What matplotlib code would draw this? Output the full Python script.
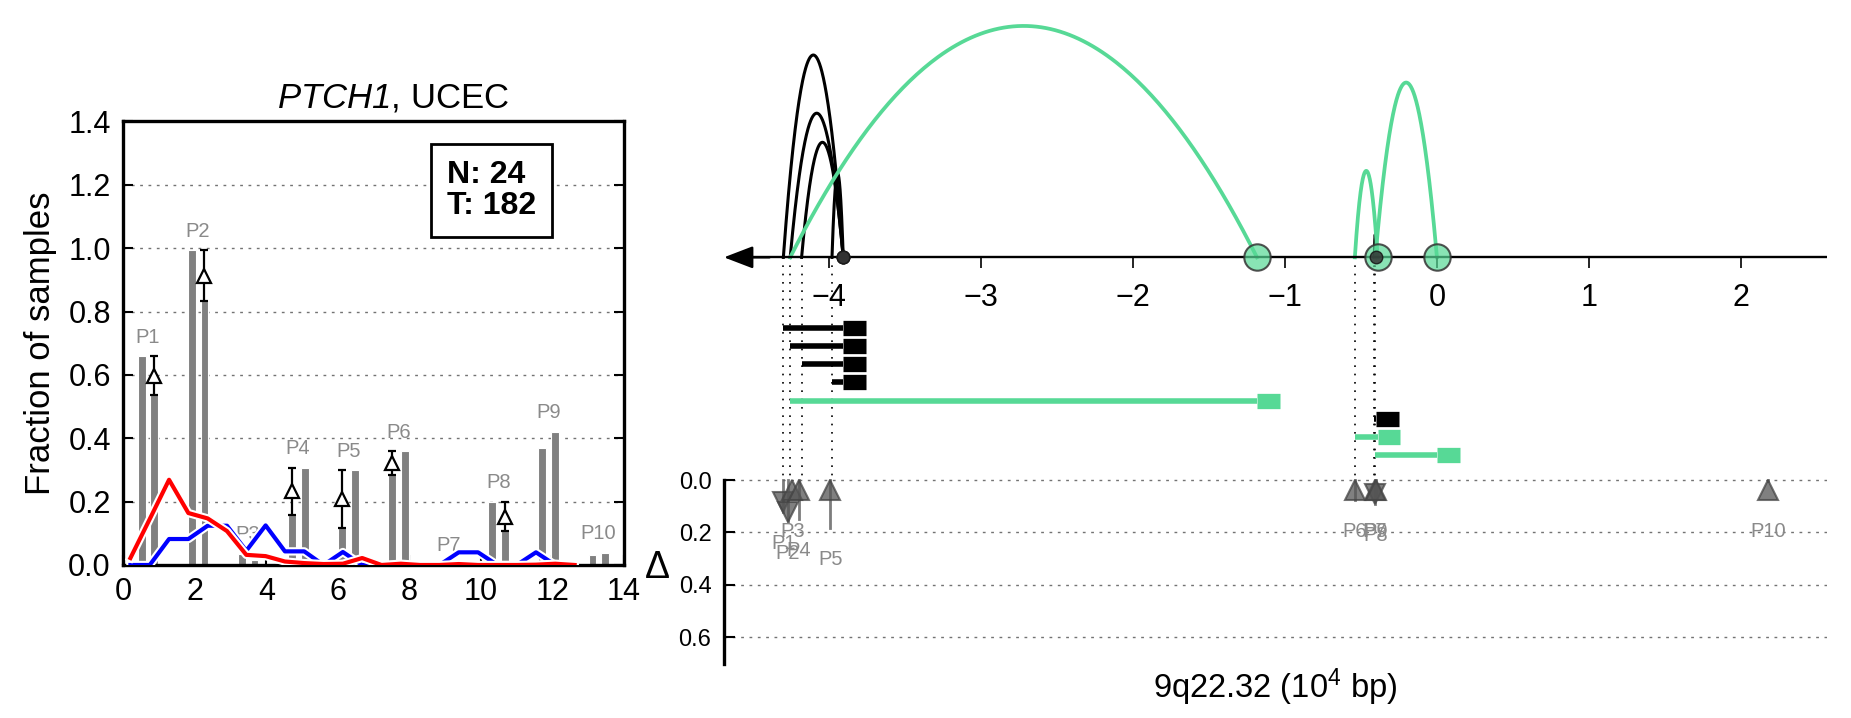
#!/usr/bin/env python3
"""
Peak fractions (left) and rearrangement arcs around PTCH1 (right).
"""

import matplotlib
matplotlib.use("Agg")
import matplotlib.pyplot as plt
import matplotlib.patheffects as pe
import matplotlib.transforms as mtransforms
import numpy as np

plt.rcParams["font.family"] = ["Liberation Sans", "DejaVu Sans"]
plt.rcParams["mathtext.fontset"] = "custom"
plt.rcParams["mathtext.rm"] = "Liberation Sans"
plt.rcParams["mathtext.it"] = "Liberation Sans:italic"
# digits are never slanted in the 'it' math font, so the gene name uses this slot
plt.rcParams["mathtext.bf"] = "Liberation Sans:italic"

# ---------------- left panel data ----------------
peak_names = ["P1", "P2", "P3", "P4", "P5", "P6", "P7", "P8", "P9", "P10"]
frac_normal = [0.659, 0.993, 0.035, 0.158, 0.116, 0.283, 0.0, 0.199, 0.369, 0.033]
frac_tumor = [0.537, 0.833, 0.015, 0.307, 0.299, 0.359, 0.0, 0.107, 0.421, 0.038]
delta_shown = [True, True, False, True, True, True, False, True, False, False]

curve_x = [0.20, 0.74, 1.28, 1.82, 2.36, 2.90, 3.44, 3.98, 4.52, 5.06, 5.60, 6.14,
           6.68, 7.22, 7.76, 8.30, 8.84, 9.38, 9.92, 10.46, 11.00, 11.54, 12.08, 12.62]
red_y = [0.022, 0.145, 0.269, 0.164, 0.147, 0.107, 0.032, 0.028, 0.011, 0.006, 0.003, 0.004,
         0.022, 0.0, 0.004, 0.0, 0.0, 0.003, 0.0, 0.0, 0.0, 0.001, 0.004, 0.0]
blue_y = [0.0, 0.0, 0.082, 0.082, 0.124, 0.124, 0.045, 0.125, 0.043, 0.043, 0.0, 0.041,
          0.0, 0.0, 0.0, 0.0, 0.0, 0.04, 0.04, 0.0, 0.0, 0.04, 0.0, 0.0]

n_normal = 24
n_tumor = 182

# ---------------- right panel data (10^4 bp) ----------------
arc_start = [-4.30, -4.255, -4.18, -3.98, -4.255, -0.412, -0.54, -0.405]
arc_end = [-3.906, -3.906, -3.906, -3.906, -1.184, -0.40, -0.39, 0.0]
arc_height = [0.772, 0.55, 0.439, 0.32, 0.883, 0.087, 0.33, 0.667]
arc_group = ["black", "black", "black", "black", "green", "black", "green", "green"]

peak_coord = [-4.30, -4.27, -4.24, -4.20, -3.99, -0.54, -0.41, -0.405, -0.40, 2.18]
peak_delta = [-0.122, -0.16, 0.0, 0.149, 0.183, 0.076, 0.0, -0.092, 0.052, 0.005]

genome_ticks = [-4, -3, -2, -1, 0, 1, 2]

GREEN = "#57d996"
AXIS_Y = -0.85      # where the genomic axis sits, in delta units
TRACK_TOP = -0.581
TRACK_STEP = 0.0694


def left_panel(ax):
    idx = np.arange(len(peak_names))
    xa = 0.52 + 1.4 * idx
    xb = xa + 0.35
    ax.bar(xa, frac_normal, width=0.22, color="#808080", edgecolor="white", lw=0.8, zorder=2)
    ax.bar(xb, frac_tumor, width=0.22, color="#808080", edgecolor="white", lw=0.8, zorder=2)

    for i, name in enumerate(peak_names):
        top = max(frac_normal[i], frac_tumor[i])
        ax.text(xa[i] + 0.17, top + 0.06, name, ha="center", va="center",
                color="#8a8a8a", fontsize=14.5, zorder=2.5)
        if delta_shown[i]:
            lo, hi = sorted([frac_normal[i], frac_tumor[i]])
            xm = xa[i] if frac_normal[i] < frac_tumor[i] else xb[i]
            ax.errorbar(xm, (lo + hi) / 2, yerr=(hi - lo) / 2, fmt="^", ms=10,
                        mfc="white", mec="black", mew=1.6, ecolor="black",
                        elinewidth=1.6, capsize=3, capthick=1.6, zorder=6)

    halo = [pe.withStroke(linewidth=6, foreground="white")]
    ax.plot(curve_x, blue_y, color="#0000ff", lw=3, path_effects=halo, zorder=4)
    ax.plot(curve_x, red_y, color="#ff0000", lw=3, path_effects=halo, zorder=4.5)

    ax.set_xlim(0, 14)
    ax.set_ylim(0, 1.4)
    ax.set_xticks(range(0, 15, 2))
    ax.set_yticks(np.arange(0, 1.41, 0.2))
    ax.set_yticklabels([f"{v:.1f}" for v in np.arange(0, 1.41, 0.2)])
    ax.tick_params(direction="in", length=7, width=1.5, labelsize=22, right=True, pad=9)
    ax.yaxis.grid(True, ls=(0, (2, 4)), color="0.45", lw=1)
    ax.set_axisbelow(True)
    for sp in ax.spines.values():
        sp.set_linewidth(2.4)

    ax.set_ylabel("Fraction of samples", fontsize=25, labelpad=8)
    ax.set_title(r"$\mathbf{PTCH1}$, UCEC", fontsize=25, x=0.54, pad=10)
    ax.text(0.735, 0.845, f"N: {n_normal}\nT: {n_tumor}", transform=ax.transAxes,
            ha="center", va="center", multialignment="left", fontsize=23,
            fontweight="bold", linespacing=1.05,
            bbox=dict(boxstyle="square,pad=0.5", fc="white", ec="black", lw=2))


def right_panel(ax, fig):
    xmin, xmax = -4.691, 2.566
    ax.set_xlim(xmin, xmax)
    ax.set_ylim(0.70, -1.832)

    # genomic axis with arrow and ticks
    ax.plot([xmin + 0.1, xmax], [AXIS_Y, AXIS_Y], color="black", lw=1.7, zorder=3)
    ax.annotate("", xy=(xmin, AXIS_Y), xytext=(xmin + 0.3, AXIS_Y),
                arrowprops=dict(arrowstyle="-|>,head_length=0.6,head_width=0.23",
                                color="black", lw=1.7, mutation_scale=30,
                                shrinkA=0, shrinkB=0), annotation_clip=False)
    ax.vlines(genome_ticks, AXIS_Y, AXIS_Y + 0.041, color="black", lw=1.2, zorder=3)
    for t in genome_ticks:
        lab = f"{t}".replace("-", "\u2212")
        ax.text(t, AXIS_Y + 0.156, lab, ha="center", va="center", fontsize=22)

    # arcs
    t = np.linspace(0, 1, 200)
    for s, e, h, g in zip(arc_start, arc_end, arc_height, arc_group):
        col = "black" if g == "black" else GREEN
        lw = 2.2 if g == "black" else 2.7
        ax.plot(s + (e - s) * t, AXIS_Y - h * 4 * t * (1 - t), color=col, lw=lw, zorder=2)

    # nodes on the axis
    for e, g in zip(arc_end, arc_group):
        if g == "green":
            ax.plot(e, AXIS_Y, "o", ms=19, mfc=(0.34, 0.85, 0.59, 0.7),
                    mec=(0.2, 0.2, 0.2, 0.85), mew=1.5, zorder=4)
    for e, g in zip(arc_end, arc_group):
        if g == "black":
            ax.plot(e, AXIS_Y, "o", ms=9, mfc=(0.2, 0.2, 0.2, 0.85),
                    mec=(0.1, 0.1, 0.1, 0.9), mew=1, zorder=5)

    # dotted guides from breakpoints to delta axis
    for s in sorted(set(arc_start)):
        ax.plot([s, s], [AXIS_Y, 0], color="black", lw=1.2, ls=(0, (1, 4)), zorder=1)

    # tracks
    for k, (s, e, g) in enumerate(zip(arc_start, arc_end, arc_group)):
        col = "black" if g == "black" else GREEN
        y = TRACK_TOP + TRACK_STEP * k
        ax.plot([s, e], [y, y], color=col, lw=4, solid_capstyle="butt", zorder=3)
        ax.plot([e, e + 0.15], [y, y], color=col, lw=11, solid_capstyle="butt", zorder=3)

    # delta markers
    down = mtransforms.offset_copy(ax.transData, fig=fig, x=0, y=7, units="points")
    up = mtransforms.offset_copy(ax.transData, fig=fig, x=0, y=-7, units="points")
    for x, d, name in zip(peak_coord, peak_delta, peak_names):
        ax.plot([x, x], [0, abs(d)], color="#666666", lw=2, alpha=0.85, zorder=3)
        if d < 0:
            ax.plot(x, abs(d), "v", ms=14, mfc="#555555", mec="#444444", mew=1.5,
                    alpha=0.75, transform=down, zorder=4)
        else:
            ax.plot(x, 0, "^", ms=14, mfc="#555555", mec="#444444", mew=1.5,
                    alpha=0.75, transform=up, zorder=4)
        ax.text(x, max(abs(d), 0.076) + 0.12, name, ha="center", va="center",
                color="#8a8a8a", fontsize=14.5, zorder=5)

    # delta axis
    ax.set_yticks([0.0, 0.2, 0.4, 0.6])
    ax.set_yticklabels(["0.0", "0.2", "0.4", "0.6"])
    ax.tick_params(axis="y", direction="in", length=8, width=1.5, labelsize=17, pad=9)
    ax.yaxis.grid(True, ls=(0, (2, 4)), color="0.45", lw=1)
    ax.set_xticks([])
    for side in ["top", "right", "bottom"]:
        ax.spines[side].set_visible(False)
    ax.spines["left"].set_linewidth(2.4)
    ax.spines["left"].set_bounds(0, 0.7)
    ax.set_ylabel("\u0394", rotation=0, fontsize=27, ha="center", va="center")
    ax.yaxis.set_label_coords(-0.0607, 0.1438)
    ax.set_xlabel(r"9q22.32 (10$^4$ bp)", fontsize=23.5, labelpad=2)


def main():
    fig = plt.figure(figsize=(18.51, 7.18), dpi=100)
    ax1 = fig.add_axes([0.0666, 0.2131, 0.2705, 0.6177])
    ax2 = fig.add_axes([0.3911, 0.0759, 0.5959, 0.9241])
    left_panel(ax1)
    right_panel(ax2, fig)
    fig.savefig("out.png", dpi=100)
    plt.close(fig)


if __name__ == "__main__":
    main()
